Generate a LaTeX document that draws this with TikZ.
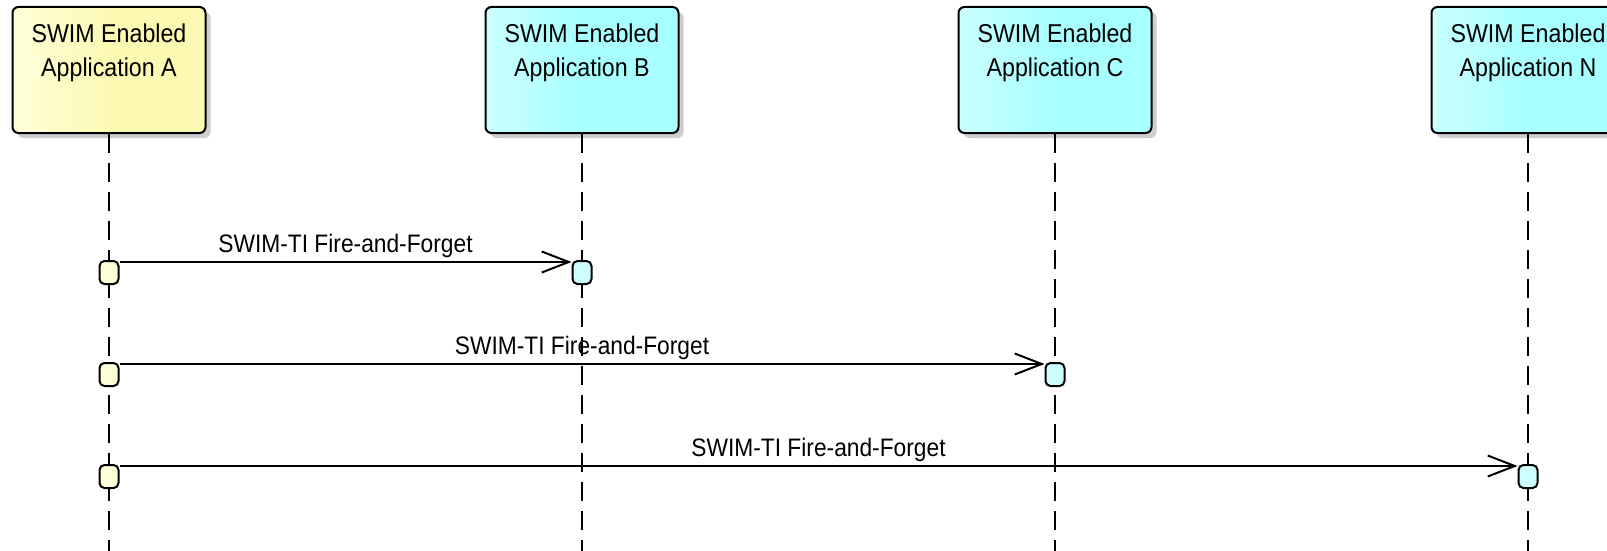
\documentclass[tikz,border=0pt]{standalone}
\usepackage{fontspec}
\setmainfont{Liberation Sans}[FakeStretch=0.9]
\usetikzlibrary{arrows.meta,shadows}

% palette
\definecolor{yEdge}{RGB}{244,238,166}
\definecolor{yLight}{RGB}{255,255,232}
\definecolor{yMain}{RGB}{252,250,178}
\definecolor{cEdge}{RGB}{156,234,240}
\definecolor{cLight}{RGB}{214,255,255}
\definecolor{cMain}{RGB}{168,255,255}
\definecolor{yAct}{RGB}{255,255,218}
\definecolor{cAct}{RGB}{204,255,255}
\definecolor{shadowGray}{RGB}{205,205,210}

% left-to-right fills of the lifeline heads
\pgfdeclarehorizontalshading{yellowHead}{100bp}{color(0bp)=(yEdge); color(16bp)=(yLight); color(50bp)=(yMain); color(100bp)=(yMain)}
\pgfdeclarehorizontalshading{cyanHead}{100bp}{color(0bp)=(cEdge); color(16bp)=(cLight); color(50bp)=(cMain); color(100bp)=(cMain)}

\tikzset{
  every node/.style={font=\fontsize{25.3}{30}\selectfont},
  head/.style={draw=black, line width=2pt, rounded corners=6pt,
    minimum width=193pt, minimum height=126pt, inner sep=0pt,
    drop shadow={shadow xshift=5pt, shadow yshift=-5pt, fill=shadowGray, opacity=1}},
  headY/.style={head, shading=yellowHead},
  headC/.style={head, shading=cyanHead},
  headtext/.style={anchor=north, align=center, inner sep=0pt, yshift=-18pt,
    font=\fontsize{25.8}{34}\selectfont},
  lifeline/.style={line width=2pt, dash pattern=on 19pt off 10pt},
  act/.style={draw=black, line width=2pt, rounded corners=5pt,
    minimum width=19pt, minimum height=23pt, inner sep=0pt},
  actY/.style={act, fill=yAct},
  actC/.style={act, fill=cAct},
  msg/.style={line width=2pt, -{Straight Barb[length=27pt, width=21pt]}},
  msglabel/.style={anchor=base, yshift=10pt, inner sep=0pt}
}

\begin{document}
\begin{tikzpicture}[x=1pt, y=-1pt]
\useasboundingbox (0,0) rectangle (1607,551);

% lifeline heads
\node[headY, label={[headtext]north:SWIM Enabled\\Application A}] (hA) at (109,70) {};
\node[headC, label={[headtext]north:SWIM Enabled\\Application B}] (hB) at (582,70) {};
\node[headC, label={[headtext]north:SWIM Enabled\\Application C}] (hC) at (1055,70) {};
\node[headC, label={[headtext]north:SWIM Enabled\\Application N}] (hN) at (1528,70) {};

% lifelines
\coordinate (eA) at (109,551);
\coordinate (eB) at (582,551);
\coordinate (eC) at (1055,551);
\coordinate (eN) at (1528,551);
\draw[lifeline] (hA.south) -- (eA);
\draw[lifeline] (hB.south) -- (eB);
\draw[lifeline] (hC.south) -- (eC);
\draw[lifeline] (hN.south) -- (eN);

% activations
\node[actY] (a1) at (109,272.5) {};
\node[actY] (a2) at (109,374.5) {};
\node[actY] (a3) at (109,476.5) {};
\node[actC] (b1) at (582,272.5) {};
\node[actC] (c2) at (1055,374.5) {};
\node[actC] (n3) at (1528,476.5) {};

% messages
\draw[msg] ([yshift=-2pt]a1.north east) -- node[msglabel] {SWIM-TI Fire-and-Forget} ([yshift=-2pt]b1.north west);
\draw[msg] ([yshift=-2pt]a2.north east) -- node[msglabel] {SWIM-TI Fire-and-Forget} ([yshift=-2pt]c2.north west);
\draw[msg] ([yshift=-2pt]a3.north east) -- node[msglabel] {SWIM-TI Fire-and-Forget} ([yshift=-2pt]n3.north west);
\end{tikzpicture}
\end{document}
